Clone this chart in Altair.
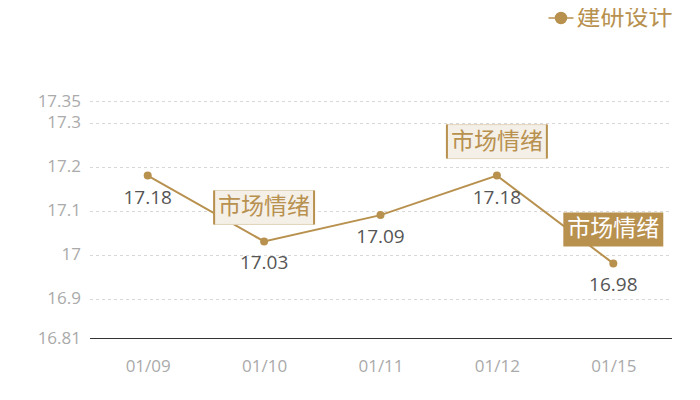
import altair as alt
import pandas as pd

# ---- data ----
dates = ["01/09", "01/10", "01/11", "01/12", "01/15"]
values = [17.18, 17.03, 17.09, 17.18, 16.98]
series_name = "建研设计"
note_text = "市场情绪"
note_light_dates = ["01/10", "01/12"]
note_dark_dates = ["01/15"]
y_ticks = [16.81, 16.9, 17, 17.1, 17.2, 17.3, 17.35]

GOLD = "#b8914f"
FONT = "Noto Sans CJK SC"
NUMFONT = "Open Sans"

df = pd.DataFrame({"date": dates, "value": values, "series": [series_name] * len(dates)})
light = df[df["date"].isin(note_light_dates)].assign(note=note_text)
dark = df[df["date"].isin(note_dark_dates)].assign(note=note_text)

BOX = "M-2.94,-3L2.94,-3L2.94,-1L-2.94,-1Z"
SIDES = "M-2.94,-3L-2.94,-1M2.94,-3L2.94,-1"
LEG = "M-1,0L1,0M-0.44,0A0.44,0.44,0,1,1,0.44,0A0.44,0.44,0,1,1,-0.44,0Z"

x = alt.X(
    "date:N", sort=dates,
    scale=alt.Scale(type="point", padding=0.5),
    axis=alt.Axis(title=None, labelAngle=0, ticks=False, labelPadding=20,
                  labelColor="#aaaaaa", labelFontSize=17, labelFont=NUMFONT,
                  domainColor="#333333", domainWidth=1, grid=False),
)
y = alt.Y(
    "value:Q",
    scale=alt.Scale(domain=[16.81, 17.35], nice=False, zero=False),
    axis=alt.Axis(title=None, values=y_ticks, labelExpr="datum.value + ''", domain=False, ticks=False,
                  labelColor="#aaaaaa", labelFontSize=17, labelFont=NUMFONT, labelPadding=9,
                  gridColor="#d8d8d8", gridDash=[3, 3], labelOverlap=False),
)
color = alt.Color(
    "series:N",
    scale=alt.Scale(domain=[series_name], range=[GOLD]),
    legend=alt.Legend(title=None, orient="none", legendX=458, legendY=-96.5, padding=0,
                      symbolType=LEG, symbolSize=625, symbolStrokeWidth=1.5,
                      symbolStrokeColor=GOLD, symbolFillColor=GOLD,
                      labelFontSize=24, labelColor=GOLD, labelFont=FONT, labelOffset=2,
                      labelLimit=200),
)

base = alt.Chart(df).encode(x=x, y=y)

line = base.mark_line(strokeWidth=2).encode(color=color)
points = base.mark_point(filled=True, size=64, opacity=1).encode(color=color)
labels = base.mark_text(dy=22, fontSize=19, color="#555555", font=NUMFONT).encode(
    text=alt.Text("value:Q", format=".2f"))

lbox = alt.Chart(light).mark_point(shape=BOX, size=1156, filled=False, fill="#f4efe7",
                                   fillOpacity=1, stroke="#e2d4bb", strokeWidth=1, opacity=1).encode(x=x, y=y)
lsides = alt.Chart(light).mark_point(shape=SIDES, size=1156, filled=False, stroke=GOLD,
                                     strokeWidth=2, opacity=1).encode(x=x, y=y)
ltext = alt.Chart(light).mark_text(dy=-34, fontSize=23, color=GOLD, font=FONT).encode(x=x, y=y, text="note:N")

dbox = alt.Chart(dark).mark_point(shape=BOX, size=1156, filled=True, fill=GOLD,
                                  strokeWidth=0, opacity=1).encode(x=x, y=y)
dtext = alt.Chart(dark).mark_text(dy=-34, fontSize=23, color="#ffffff", font=FONT).encode(x=x, y=y, text="note:N")

chart = alt.layer(line, points, labels, lbox, lsides, ltext, dbox, dtext).properties(
    width=582, height=237,
    autosize=alt.AutoSizeParams(type="none"),
    padding={"left": 81.5, "top": 93, "right": 20, "bottom": 50},
).configure(font=FONT).configure_view(stroke="transparent", strokeWidth=0)

chart.save("out.html", embed_options={"renderer": "svg", "actions": False})
